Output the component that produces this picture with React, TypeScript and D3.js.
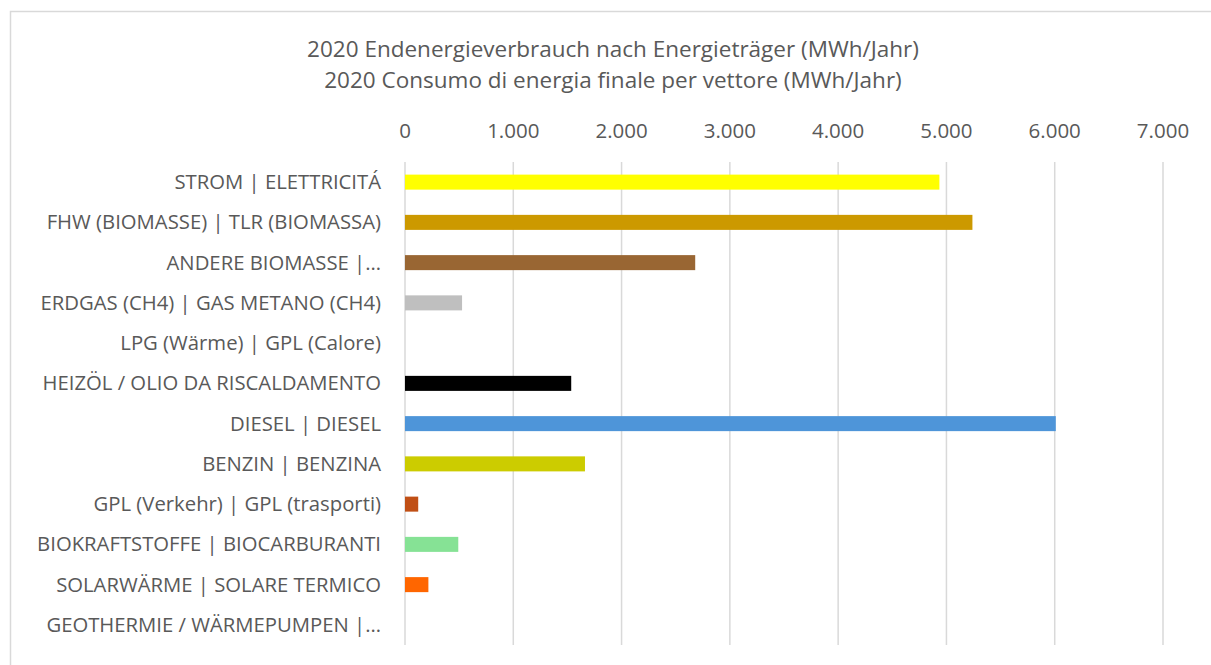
import React from 'react';
import * as d3 from 'd3';

// categories (as shown on the axis, truncated labels kept as in the original)
const categories = [
  'STROM | ELETTRICITÁ',
  'FHW (BIOMASSE) | TLR (BIOMASSA)',
  'ANDERE BIOMASSE |…',
  'ERDGAS (CH4) | GAS METANO (CH4)',
  'LPG (Wärme) | GPL (Calore)',
  'HEIZÖL / OLIO DA RISCALDAMENTO',
  'DIESEL | DIESEL',
  'BENZIN | BENZINA',
  'GPL (Verkehr) | GPL (trasporti)',
  'BIOKRAFTSTOFFE | BIOCARBURANTI',
  'SOLARWÄRME | SOLARE TERMICO',
  'GEOTHERMIE / WÄRMEPUMPEN |…',
];

// MWh/Jahr
const values = [4935, 5240, 2680, 527, 0, 1535, 6010, 1662, 122, 492, 216, 0];

const barColors = [
  '#FFFF00', '#CC9900', '#996633', '#BFBFBF', '#FFC000', '#000000',
  '#4E95D9', '#CCCC00', '#C04F15', '#86E295', '#FF6600', '#8ED973',
];

const titleLines = [
  '2020 Endenergieverbrauch nach Energieträger (MWh/Jahr)',
  '2020 Consumo di energia finale per vettore (MWh/Jahr)',
];

const xMax = 7000;

const W = 1211;
const H = 665;
const textColor = '#595959';
const gridColor = '#D9D9D9';
const font = '"Open Sans", Roboto, sans-serif';

const de = d3.formatLocale({ decimal: ',', thousands: '.', grouping: [3], currency: ['', '€'] });
const fmt = de.format(',d');

export default function App() {
  const x = d3.scaleLinear().domain([0, xMax]).range([405, 1163]);
  const y = d3.scaleBand<string>()
    .domain(categories)
    .range([162, 645])
    .paddingInner(0.627)
    .paddingOuter(0.3135);

  const ticks = x.ticks(7);

  return (
    <svg
      width={W}
      height={H}
      style={{ position: 'absolute', left: 0, top: 0, background: '#fff' }}
      fontFamily={font}
    >
      {/* chart area border */}
      <rect x={10.5} y={11.5} width={W + 20} height={H + 20} fill="#fff" stroke={gridColor} strokeWidth={1.5} />

      {/* title */}
      <text textAnchor="middle" fill={textColor} fontSize={22.5}>
        {titleLines.map((t, i) => (
          <tspan key={i} x={613} y={57 + i * 31}>{t}</tspan>
        ))}
      </text>

      {/* gridlines + top tick labels */}
      {ticks.map(t => (
        <g key={t}>
          <line x1={x(t)} x2={x(t)} y1={162} y2={645} stroke={gridColor} strokeWidth={1.5} />
          <text x={x(t)} y={138} textAnchor="middle" fill={textColor} fontSize={20.5}>
            {fmt(t)}
          </text>
        </g>
      ))}

      {/* bars */}
      {categories.map((c, i) => (
        values[i] > 0 ? (
          <rect
            key={c}
            x={x(0)}
            y={y(c)}
            width={x(values[i]) - x(0)}
            height={y.bandwidth()}
            fill={barColors[i]}
          />
        ) : null
      ))}

      {/* category labels */}
      {categories.map(c => (
        <text
          key={c}
          x={381}
          y={(y(c) ?? 0) + y.bandwidth() / 2}
          dy="0.35em"
          textAnchor="end"
          fill={textColor}
          fontSize={20.3}
        >
          {c}
        </text>
      ))}
    </svg>
  );
}
